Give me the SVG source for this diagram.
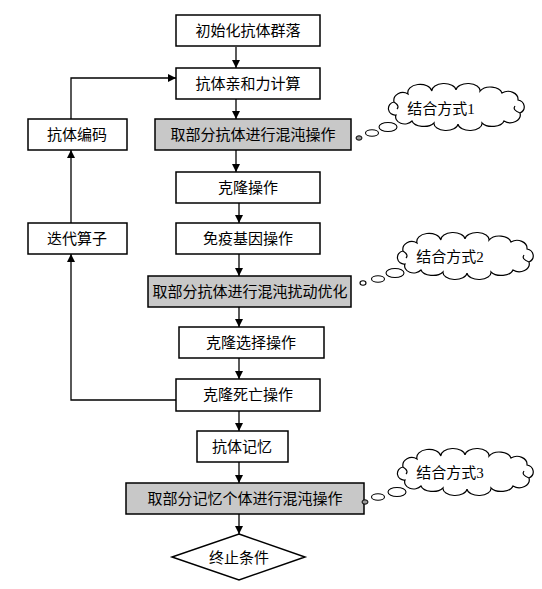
<svg xmlns="http://www.w3.org/2000/svg" width="542" height="589" viewBox="0 0 542 589">
<style>
.box{fill:#fff;stroke:#000;stroke-width:1.5}
.gbox{fill:#c8c8c8;stroke:#000;stroke-width:1.5}
.t{font-family:"Liberation Serif","Noto Sans CJK SC",serif;font-size:15px;fill:#000;text-anchor:middle;dominant-baseline:central}
.ct{font-family:"Liberation Serif","Noto Sans CJK SC",serif;font-size:15px;fill:#000;text-anchor:middle;dominant-baseline:central}
.ln{fill:none;stroke:#000;stroke-width:1.3}
.cloud{fill:#fff;stroke:#000;stroke-width:1.2}
.bub{fill:#fff;stroke:#000;stroke-width:1.1}
.dot{fill:#999;stroke:#000;stroke-width:1}
</style>
<defs>
<marker id="ah" markerWidth="8" markerHeight="8" refX="8" refY="4" orient="auto" markerUnits="userSpaceOnUse">
<path d="M0,0 L8,4 L0,8 Z" fill="#000"/>
</marker>
<path id="cl" d="M6,14 A9,8 0 0 1 20,6 A12,8 0 0 1 44,3 A12,7 0 0 1 68,2 A12,7 0 0 1 92,3 A12,8 0 0 1 114,5 A10,8 0 0 1 130,12 A8,7 0 0 1 132,25 A10,8 0 0 1 116,33 A12,7 0 0 1 94,35 A12,7 0 0 1 70,36 A12,7 0 0 1 46,35 A12,7 0 0 1 24,33 A9,7 0 0 1 8,27 A6,6 0 0 1 6,14 Z M6,14 Q12,18 9,21 M132,25 Q124,22 127,18"/>
</defs>
<g id="connectors">
<line class="ln" x1="236" y1="47" x2="236" y2="68" marker-end="url(#ah)"/>
<line class="ln" x1="236" y1="99" x2="236" y2="119" marker-end="url(#ah)"/>
<line class="ln" x1="236" y1="150" x2="236" y2="172" marker-end="url(#ah)"/>
<line class="ln" x1="239" y1="203" x2="239" y2="223" marker-end="url(#ah)"/>
<line class="ln" x1="239" y1="254" x2="239" y2="276" marker-end="url(#ah)"/>
<line class="ln" x1="239" y1="307" x2="239" y2="327" marker-end="url(#ah)"/>
<line class="ln" x1="239" y1="358" x2="239" y2="379" marker-end="url(#ah)"/>
<line class="ln" x1="239" y1="411" x2="239" y2="431" marker-end="url(#ah)"/>
<line class="ln" x1="239" y1="462" x2="239" y2="483" marker-end="url(#ah)"/>
<line class="ln" x1="239" y1="514" x2="239" y2="534" marker-end="url(#ah)"/>
<path class="ln" d="M176,400 H71 V254" marker-end="url(#ah)"/>
<line class="ln" x1="71" y1="223" x2="71" y2="150" marker-end="url(#ah)"/>
<path class="ln" d="M71,119 V78 H176" marker-end="url(#ah)"/>
</g>
<g id="n1"><rect class="box" x="176" y="15" width="144" height="31"/><text class="t" x="248" y="31">初始化抗体群落</text></g>
<g id="n2"><rect class="box" x="176" y="68" width="144" height="31"/><text class="t" x="248" y="84">抗体亲和力计算</text></g>
<g id="n3"><rect class="gbox" x="155" y="119" width="196" height="31"/><text class="t" x="253" y="135">取部分抗体进行混沌操作</text></g>
<g id="n4"><rect class="box" x="176" y="172" width="144" height="31"/><text class="t" x="248" y="188">克隆操作</text></g>
<g id="n5"><rect class="box" x="176" y="223" width="144" height="31"/><text class="t" x="248" y="239">免疫基因操作</text></g>
<g id="n6"><rect class="gbox" x="148" y="276" width="203" height="31"/><text class="t" x="250" y="292">取部分抗体进行混沌扰动优化</text></g>
<g id="n7"><rect class="box" x="179" y="327" width="145" height="31"/><text class="t" x="251" y="343">克隆选择操作</text></g>
<g id="n8"><rect class="box" x="176" y="379" width="144" height="32"/><text class="t" x="248" y="395">克隆死亡操作</text></g>
<g id="n9"><rect class="box" x="197" y="431" width="91" height="31"/><text class="t" x="242" y="447">抗体记忆</text></g>
<g id="n10"><rect class="gbox" x="126" y="483" width="238" height="31"/><text class="t" x="245" y="499">取部分记忆个体进行混沌操作</text></g>
<g id="n11"><polygon class="box" points="239,534 305,557 239,580 172,557"/><text class="t" x="239" y="558">终止条件</text></g>
<g id="n12"><rect class="box" x="28" y="119" width="99" height="31"/><text class="t" x="77" y="135">抗体编码</text></g>
<g id="n13"><rect class="box" x="28" y="223" width="99" height="31"/><text class="t" x="77" y="239">迭代算子</text></g>
<g id="c1">
<use href="#cl" class="cloud" transform="translate(388,88)"/>
<text class="ct" x="441" y="109">结合方式1</text>
<ellipse class="dot" cx="359" cy="138" rx="3" ry="2.2"/>
<ellipse class="bub" cx="372" cy="133" rx="6.5" ry="3.3"/>
<ellipse class="bub" cx="388" cy="127" rx="9" ry="4.5"/>
</g>
<g id="c2">
<use href="#cl" class="cloud" transform="translate(397,237)"/>
<text class="ct" x="450" y="257">结合方式2</text>
<ellipse class="bub" cx="363" cy="283" rx="3" ry="2.2"/>
<ellipse class="bub" cx="378" cy="279" rx="6.5" ry="3.3"/>
<ellipse class="bub" cx="395" cy="273" rx="9" ry="4.5"/>
</g>
<g id="c3">
<use href="#cl" class="cloud" transform="translate(397,453)"/>
<text class="ct" x="450" y="473">结合方式3</text>
<ellipse class="dot" cx="365" cy="502" rx="3" ry="2.2"/>
<ellipse class="bub" cx="378" cy="497" rx="6.5" ry="3.3"/>
<ellipse class="bub" cx="397" cy="492" rx="9" ry="4.5"/>
</g>
</svg>
